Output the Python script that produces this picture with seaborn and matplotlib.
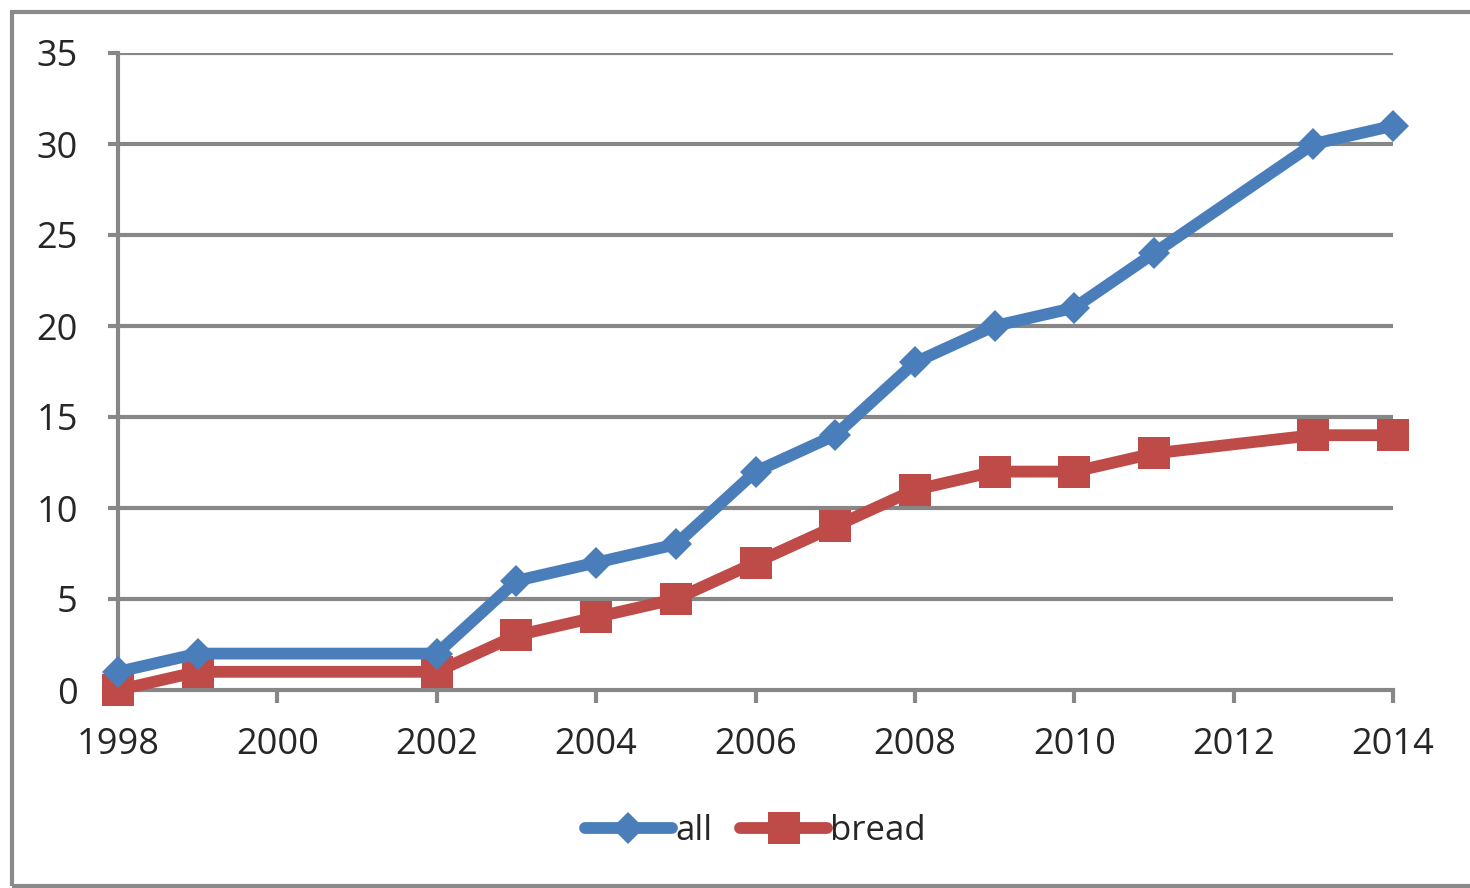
import seaborn as sns
import matplotlib.pyplot as plt
from matplotlib.patches import Rectangle

# data
years = [1998, 1999, 2002, 2003, 2004, 2005, 2006, 2007, 2008, 2009, 2010, 2011, 2013, 2014]
all_vals = [1, 2, 2, 6, 7, 8, 12, 14, 18, 20, 21, 24, 30, 31]
bread_vals = [0, 1, 1, 3, 4, 5, 7, 9, 11, 12, 12, 13, 14, 14]
xticks = list(range(1998, 2015, 2))
yticks = list(range(0, 36, 5))

blue = '#4A7EBB'
red = '#BE4B48'
grid_grey = '#878787'

sns.set_style('white')
plt.rcParams['font.family'] = ['Open Sans', 'DejaVu Sans']

fig = plt.figure(figsize=(14.7, 8.88), dpi=100)
ax = fig.add_axes([118 / 1470, 1 - 690 / 888, (1393 - 118) / 1470, (690 - 53) / 888])

sns.lineplot(x=years, y=all_vals, ax=ax, color=blue, lw=8.5, marker='D',
             markersize=16, markeredgewidth=0, label='all', zorder=4, clip_on=False)
sns.lineplot(x=years, y=bread_vals, ax=ax, color=red, lw=8.5, marker='s',
             markersize=23, markeredgewidth=0, label='bread', zorder=3, clip_on=False)

ax.set_xlim(1998, 2014)
ax.set_ylim(0, 35)
ax.set_xticks(xticks)
ax.set_yticks(yticks)
ax.set_xticklabels([str(t) for t in xticks])
ax.set_yticklabels([str(t) for t in yticks])

for y in yticks[1:]:
    ax.axhline(y, color=grid_grey, lw=3, zorder=1)

for side in ['top', 'right']:
    ax.spines[side].set_visible(False)
for side in ['left', 'bottom']:
    ax.spines[side].set_color(grid_grey)
    ax.spines[side].set_linewidth(3)
    ax.spines[side].set_zorder(1)

ax.tick_params(axis='x', direction='out', length=9, width=3, color=grid_grey,
               labelsize=26, pad=18, bottom=True)
ax.tick_params(axis='y', direction='out', length=7, width=3, color=grid_grey,
               labelsize=26, pad=22, left=True)
ax.set_xlabel('')
ax.set_ylabel('')

leg = ax.legend(loc='upper center', bbox_to_anchor=(0.5, -0.146), ncol=2, frameon=False,
                fontsize=25, handlelength=2.5, handletextpad=0.1, columnspacing=0.8,
                markerscale=1.0)

# outer chart frame
fig.patches.append(Rectangle((12 / 1470, 2 / 888), 1.2, 1 - 14 / 888,
                             transform=fig.transFigure, fill=False,
                             edgecolor='#8a8a8a', lw=3, clip_on=False))

fig.savefig('out.png', dpi=100)
